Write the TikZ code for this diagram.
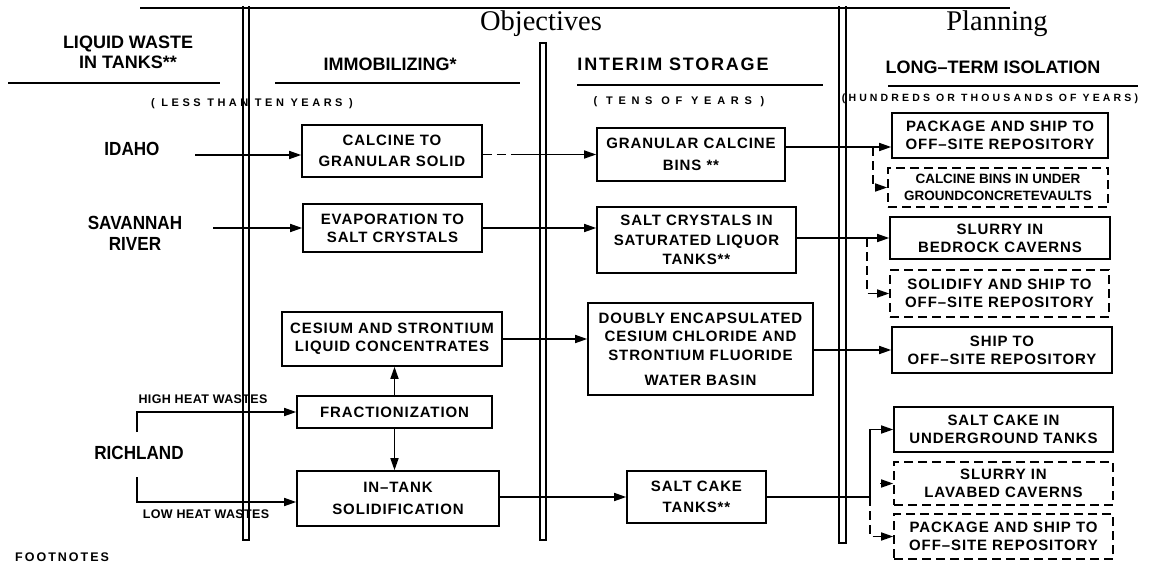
\documentclass[tikz,border=0pt]{standalone}
\usepackage{fontspec}
\setmainfont{Liberation Sans}
\newfontfamily\bxf{Liberation Sans}[LetterSpace=6]
\newfontfamily\bxcf{Liberation Sans}[LetterSpace=0]
\newfontfamily\hdf{Liberation Sans}[LetterSpace=0]
\newfontfamily\hdbf{Liberation Sans}[LetterSpace=10]
\newfontfamily\labf{Liberation Sans}[FakeStretch=0.9]
\newfontfamily\smf{Liberation Sans}[LetterSpace=32]
\newfontfamily\smbf{Liberation Sans}[LetterSpace=52]
\newfontfamily\smcf{Liberation Sans}[LetterSpace=30]
\newfontfamily\hwf{Liberation Sans}[LetterSpace=3]
\newfontfamily\ftf{Liberation Sans}[LetterSpace=16]
\newfontfamily\ttlf{Liberation Serif}
\usetikzlibrary{arrows.meta}
\tikzset{
  box/.style={draw, line width=1.6pt, inner sep=0pt, align=center,
    font=\bxf\bfseries\fontsize{15}{18}\selectfont},
  dbox/.style={box, dash pattern=on 9pt off 5pt},
  condbox/.style={dbox, font=\bxcf\bfseries\fontsize{13.5}{17}\selectfont},
  arr/.style={line width=1.5pt, -{Triangle[length=12pt,width=8pt]}},
  dsh/.style={dash pattern=on 9pt off 5pt},
  rule/.style={line width=1.3pt},
  dbl/.style={line width=1.3pt},
  head/.style={font=\hdf\bfseries\fontsize{18}{20}\selectfont, inner sep=0pt},
  headb/.style={font=\hdbf\bfseries\fontsize{18}{20}\selectfont, inner sep=0pt},
  lhead/.style={font=\bfseries\fontsize{18}{20}\selectfont, inner sep=0pt, align=center},
  site/.style={font=\labf\bfseries\fontsize{19}{21}\selectfont, inner sep=0pt, align=center},
  title/.style={font=\ttlf\fontsize{28.5}{30}\selectfont, inner sep=0pt},
  heat/.style={font=\hwf\bfseries\fontsize{12.5}{14}\selectfont, inner sep=0pt},
}
\begin{document}
\begin{tikzpicture}[x=1pt,y={(0pt,-1pt)}]
\useasboundingbox (0,0) rectangle (1157,562);

% frame lines
\draw[rule] (140,8) -- (1010,8);
\draw[dbl] (243,6) -- (243,540) -- (249,540) -- (249,6);
\draw[dbl] (540,540) -- (540,43) -- (546,43) -- (546,540) -- cycle;
\draw[dbl] (839,6) -- (839,543) -- (846,543) -- (846,6);

% titles
\node[title] (obj) at (541,24) {Objectives};
\node[title] (plan) at (997,24) {Planning};

% headings
\node[lhead] (liq) at (128,52) {LIQUID WASTE\\IN TANKS**};
\node[head] (imm) at (390,64) {IMMOBILIZING*};
\node[headb] (int) at (673,64) {INTERIM STORAGE};
\node[head] (ltm) at (993,67) {LONG–TERM ISOLATION};
\draw[rule] (8,83) -- (220,83);
\draw[rule] (275,83) -- (520,83);
\draw[rule] (577,85) -- (823,85);
\draw[rule] (888,86) -- (1138,86);

\node[font=\smf\bfseries\fontsize{11}{13}\selectfont, inner sep=0pt] (t1) at (252,104) {( LESS THAN TEN YEARS )};
\node[font=\smbf\bfseries\fontsize{11}{13}\selectfont, inner sep=0pt] (t2) at (679,102) {( TENS OF YEARS )};
\node[font=\smcf\bfseries\fontsize{10.5}{13}\selectfont, inner sep=0pt] (t3) at (990,99) {(HUNDREDS OR THOUSANDS OF YEARS)};

% sites
\node[site] (idaho) at (132,149) {IDAHO};
\node[site] (sav) at (135,233) {SAVANNAH\\RIVER};
\node[site] (rich) at (139,453) {RICHLAND};
\node[heat] (hhw) at (203,399) {HIGH HEAT WASTES};
\node[heat] (lhw) at (206,514) {LOW HEAT WASTES};
\node[font=\ftf\bfseries\fontsize{12.5}{14}\selectfont, inner sep=0pt, anchor=base west] (foot) at (15,561.5) {FOOTNOTES};

% immobilizing boxes
\node[box, minimum width=180pt, minimum height=52pt, font=\bxf\bfseries\fontsize{15}{21}\selectfont] (calc) at (392,151) {CALCINE TO\\GRANULAR SOLID};
\node[box, minimum width=179pt, minimum height=48pt] (evap) at (392.5,228) {EVAPORATION TO\\SALT CRYSTALS};
\node[box, minimum width=220pt, minimum height=54pt] (ces) at (392,339) {CESIUM AND STRONTIUM\\LIQUID CONCENTRATES};
\node[box, minimum width=195pt, minimum height=32pt] (frac) at (394.5,412) {FRACTIONIZATION};
\node[box, minimum width=202pt, minimum height=55pt, font=\bxf\bfseries\fontsize{15}{22}\selectfont] (intank) at (398,498.5) {IN–TANK\\SOLIDIFICATION};

% interim storage boxes
\node[box, minimum width=188pt, minimum height=53pt, font=\bxf\bfseries\fontsize{15}{22}\selectfont] (gran) at (691,154.5) {GRANULAR CALCINE\\BINS **};
\node[box, minimum width=199pt, minimum height=66pt, font=\bxf\bfseries\fontsize{15}{19.5}\selectfont] (salt) at (696.5,240) {SALT CRYSTALS IN\\SATURATED LIQUOR\\TANKS**};
\node[box, minimum width=225pt, minimum height=92pt, font=\bxf\bfseries\fontsize{15}{18.5}\selectfont] (doubly) at (700.5,349) {DOUBLY ENCAPSULATED\\CESIUM CHLORIDE AND\\STRONTIUM FLUORIDE\\[6.5pt]WATER BASIN};
\node[box, minimum width=139pt, minimum height=52pt, font=\bxf\bfseries\fontsize{15}{21}\selectfont] (cake) at (696.5,497) {SALT CAKE\\TANKS**};

% long-term boxes
\node[box, minimum width=216pt, minimum height=45pt] (pkg1) at (1000,135.5) {PACKAGE AND SHIP TO\\OFF–SITE REPOSITORY};
\node[condbox, minimum width=220pt, minimum height=39pt] (bins) at (998,187.5) {CALCINE BINS IN UNDER\\GROUNDCONCRETEVAULTS};
\node[box, minimum width=220pt, minimum height=42pt] (slur1) at (1000,238) {SLURRY IN\\BEDROCK CAVERNS};
\node[dbox, minimum width=219pt, minimum height=47pt] (solid) at (999.5,293.5) {SOLIDIFY AND SHIP TO\\OFF–SITE REPOSITORY};
\node[box, minimum width=220pt, minimum height=46pt] (ship) at (1002,350) {SHIP TO\\OFF–SITE REPOSITORY};
\node[box, minimum width=219pt, minimum height=45pt] (scake) at (1003.5,429.5) {SALT CAKE IN\\UNDERGROUND TANKS};
\node[dbox, minimum width=219pt, minimum height=43pt] (lava) at (1003.5,483.5) {SLURRY IN\\LAVABED CAVERNS};
\node[dbox, minimum width=219pt, minimum height=45pt] (pkg2) at (1003.5,536.5) {PACKAGE AND SHIP TO\\OFF–SITE REPOSITORY};

% connector coordinates
\coordinate (idS) at (195,155);
\coordinate (svS) at (213,228);
\coordinate (rhS) at (137,432);
\coordinate (rlS) at (137,477);
\coordinate (cgD) at (512,154.5);
\coordinate (b1) at (873,147);
\coordinate (b2) at (867,238);
\coordinate (b3) at (870,497);
\coordinate (b3s) at (880,483.5);

% connectors: sites -> immobilizing
\draw[arr] (idS) -- (idS -| calc.west);
\draw[arr] (svS) -- (svS -| evap.west);
\draw[arr] (rhS) |- (frac.west);
\draw[arr] (rlS) |- ([yshift=-3.5pt]intank.west);
\draw[arr] (frac.north) -- (frac.north |- ces.south);
\draw[arr] (frac.south) -- (frac.south |- intank.north);

% immobilizing -> interim
\draw[line width=1.5pt, dsh] (calc.east |- gran.west) -- (cgD);
\draw[arr] (cgD) -- (gran.west);
\draw[arr] (evap.east) -- (evap.east -| salt.west);
\draw[arr] (ces.east) -- (ces.east -| doubly.west);
\draw[arr] (intank.east |- cake.west) -- (cake.west);

% interim -> long-term
\draw[arr] ([yshift=7.5pt]gran.east) -- ([yshift=7.5pt]gran.east -| pkg1.west);
\draw[arr, dsh] (b1) |- (bins.west);
\draw[arr] (salt.east |- slur1.west) -- (slur1.west);
\draw[arr, dsh] (b2) |- (solid.west);
\draw[arr] (doubly.east |- ship.west) -- (ship.west);
\draw[line width=1.5pt] (cake.east) -- (b3);
\draw[arr] (b3) |- (scake.west);
\draw[arr, dsh] (b3) |- (pkg2.west);
\draw[arr] (b3s) -- (lava.west);
\end{tikzpicture}
\end{document}
